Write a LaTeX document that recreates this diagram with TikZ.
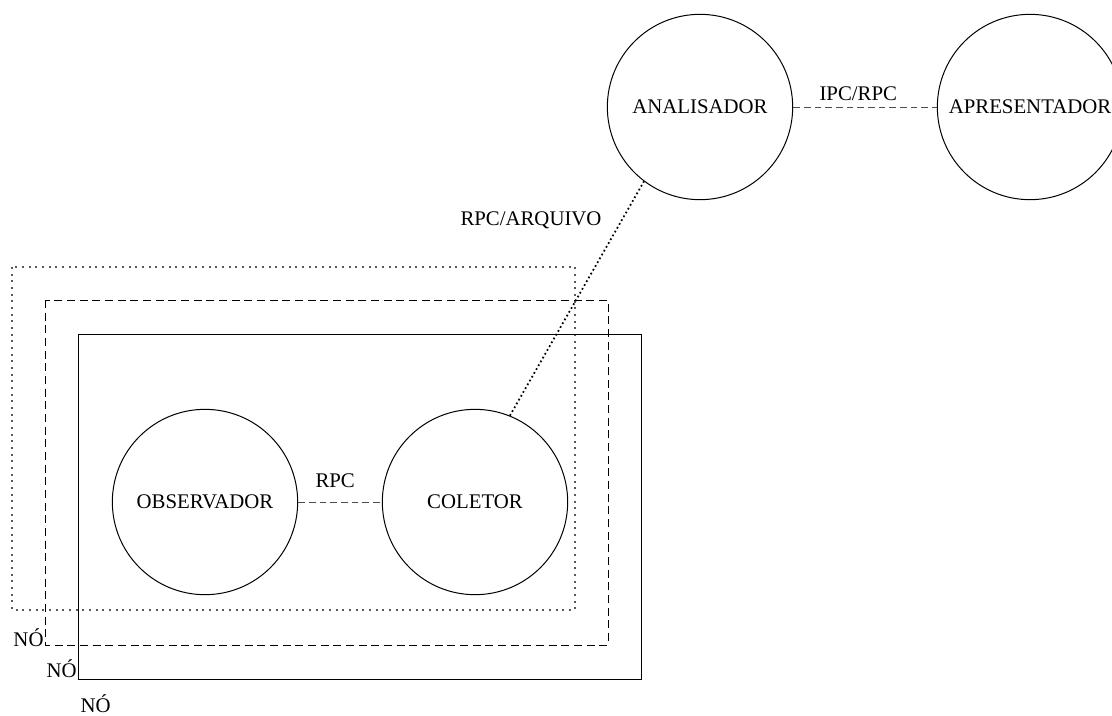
\documentclass[tikz,border=0pt]{standalone}
\usepackage{fontspec}
\setmainfont{Liberation Serif}
\tikzset{every picture/.style={line width=0.75pt}}
\tikzset{
  proc/.style={draw,circle,minimum size=139pt,inner sep=0pt,font=\fontsize{15.6}{18}\selectfont},
  lbl/.style={inner sep=0pt,font=\fontsize{15.6}{18}\selectfont},
  link/.style={dash pattern=on 5pt off 3pt,gray!60!black}
}

\begin{document}
\begin{tikzpicture}[x=0.75pt,y=0.75pt,yscale=-1,xscale=1]
        \useasboundingbox (0,0) rectangle (1112,715);

        %Rectangles (nodes)
        \draw[dash pattern=on 1.5pt off 3.5pt,line width=1pt,gray!70!black]  (12,267) rectangle (575,610) ;
        \draw[dash pattern=on 6pt off 3.5pt]  (45,300) rectangle (608,645) ;
        \draw  (78,334) rectangle (641,679) ;

        %Processes
        \node[proc] (obs) at (205,502) {OBSERVADOR};
        \node[proc] (col) at (475,502) {COLETOR};
        \node[proc] (ana) at (700,107) {ANALISADOR};
        \node[proc] (apr) at (1030,107) {APRESENTADOR};

        %Connectors
        \draw[link]  (obs.east) -- (col.west) ;
        \draw[link]  (ana.east) -- (apr.west) ;
        \draw[dotted,line width=1.3pt]  (col.68) -- (ana.233) ;

        %Labels
        \node[lbl,anchor=base west] (rpc) at (315,487) {RPC};
        \node[lbl,anchor=base west] (iperpc) at (819,100) {IPC/RPC};
        \node[lbl,anchor=base east] (arq) at (602,225) {RPC/ARQUIVO};
        \node[lbl,anchor=base west] (no1) at (13,646) {NÓ};
        \node[lbl,anchor=base west] (no2) at (46,677) {NÓ};
        \node[lbl,anchor=base west] (no3) at (80,712) {NÓ};

\end{tikzpicture}
\end{document}
